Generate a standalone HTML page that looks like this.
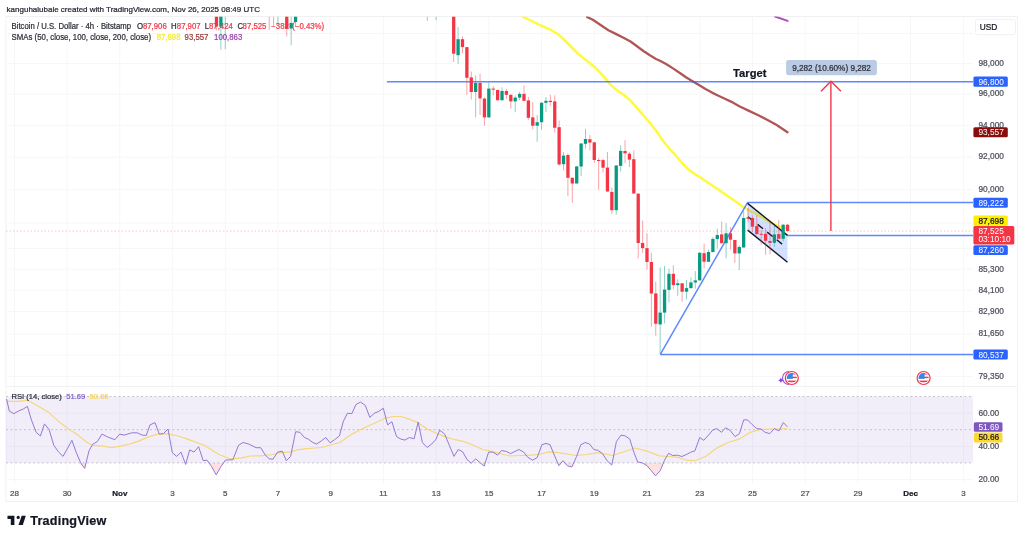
<!DOCTYPE html>
<html><head><meta charset="utf-8"><style>
html,body{margin:0;padding:0;background:#fff;}
body{width:1024px;height:539px;overflow:hidden;position:relative;font-family:"Liberation Sans",sans-serif;}
svg{position:absolute;left:0;top:0;filter:blur(0.35px);}
text{font-family:"Liberation Sans",sans-serif;stroke-width:0.22px;}
</style></head><body>
<svg width="1024" height="539" viewBox="0 0 1024 539">
<rect x="6.0" y="16.5" width="1011.5" height="485.0" fill="#fff" stroke="#f1f1f3" stroke-width="1"/>
<line x1="14.4" y1="16.5" x2="14.4" y2="386.5" stroke="#f7f7f7" stroke-width="1"/><line x1="14.4" y1="386.5" x2="14.4" y2="484.0" stroke="#f7f7f7" stroke-width="1"/><line x1="67.1" y1="16.5" x2="67.1" y2="386.5" stroke="#f7f7f7" stroke-width="1"/><line x1="67.1" y1="386.5" x2="67.1" y2="484.0" stroke="#f7f7f7" stroke-width="1"/><line x1="119.8" y1="16.5" x2="119.8" y2="386.5" stroke="#f7f7f7" stroke-width="1"/><line x1="119.8" y1="386.5" x2="119.8" y2="484.0" stroke="#f7f7f7" stroke-width="1"/><line x1="172.6" y1="16.5" x2="172.6" y2="386.5" stroke="#f7f7f7" stroke-width="1"/><line x1="172.6" y1="386.5" x2="172.6" y2="484.0" stroke="#f7f7f7" stroke-width="1"/><line x1="225.3" y1="16.5" x2="225.3" y2="386.5" stroke="#f7f7f7" stroke-width="1"/><line x1="225.3" y1="386.5" x2="225.3" y2="484.0" stroke="#f7f7f7" stroke-width="1"/><line x1="278.0" y1="16.5" x2="278.0" y2="386.5" stroke="#f7f7f7" stroke-width="1"/><line x1="278.0" y1="386.5" x2="278.0" y2="484.0" stroke="#f7f7f7" stroke-width="1"/><line x1="330.7" y1="16.5" x2="330.7" y2="386.5" stroke="#f7f7f7" stroke-width="1"/><line x1="330.7" y1="386.5" x2="330.7" y2="484.0" stroke="#f7f7f7" stroke-width="1"/><line x1="383.4" y1="16.5" x2="383.4" y2="386.5" stroke="#f7f7f7" stroke-width="1"/><line x1="383.4" y1="386.5" x2="383.4" y2="484.0" stroke="#f7f7f7" stroke-width="1"/><line x1="436.2" y1="16.5" x2="436.2" y2="386.5" stroke="#f7f7f7" stroke-width="1"/><line x1="436.2" y1="386.5" x2="436.2" y2="484.0" stroke="#f7f7f7" stroke-width="1"/><line x1="488.9" y1="16.5" x2="488.9" y2="386.5" stroke="#f7f7f7" stroke-width="1"/><line x1="488.9" y1="386.5" x2="488.9" y2="484.0" stroke="#f7f7f7" stroke-width="1"/><line x1="541.6" y1="16.5" x2="541.6" y2="386.5" stroke="#f7f7f7" stroke-width="1"/><line x1="541.6" y1="386.5" x2="541.6" y2="484.0" stroke="#f7f7f7" stroke-width="1"/><line x1="594.3" y1="16.5" x2="594.3" y2="386.5" stroke="#f7f7f7" stroke-width="1"/><line x1="594.3" y1="386.5" x2="594.3" y2="484.0" stroke="#f7f7f7" stroke-width="1"/><line x1="647.0" y1="16.5" x2="647.0" y2="386.5" stroke="#f7f7f7" stroke-width="1"/><line x1="647.0" y1="386.5" x2="647.0" y2="484.0" stroke="#f7f7f7" stroke-width="1"/><line x1="699.8" y1="16.5" x2="699.8" y2="386.5" stroke="#f7f7f7" stroke-width="1"/><line x1="699.8" y1="386.5" x2="699.8" y2="484.0" stroke="#f7f7f7" stroke-width="1"/><line x1="752.5" y1="16.5" x2="752.5" y2="386.5" stroke="#f7f7f7" stroke-width="1"/><line x1="752.5" y1="386.5" x2="752.5" y2="484.0" stroke="#f7f7f7" stroke-width="1"/><line x1="805.2" y1="16.5" x2="805.2" y2="386.5" stroke="#f7f7f7" stroke-width="1"/><line x1="805.2" y1="386.5" x2="805.2" y2="484.0" stroke="#f7f7f7" stroke-width="1"/><line x1="857.9" y1="16.5" x2="857.9" y2="386.5" stroke="#f7f7f7" stroke-width="1"/><line x1="857.9" y1="386.5" x2="857.9" y2="484.0" stroke="#f7f7f7" stroke-width="1"/><line x1="910.6" y1="16.5" x2="910.6" y2="386.5" stroke="#f7f7f7" stroke-width="1"/><line x1="910.6" y1="386.5" x2="910.6" y2="484.0" stroke="#f7f7f7" stroke-width="1"/><line x1="963.4" y1="16.5" x2="963.4" y2="386.5" stroke="#f7f7f7" stroke-width="1"/><line x1="963.4" y1="386.5" x2="963.4" y2="484.0" stroke="#f7f7f7" stroke-width="1"/><line x1="6.0" y1="33.5" x2="973.0" y2="33.5" stroke="#f7f7f7" stroke-width="1"/><line x1="6.0" y1="63.5" x2="973.0" y2="63.5" stroke="#f7f7f7" stroke-width="1"/><line x1="6.0" y1="94.1" x2="973.0" y2="94.1" stroke="#f7f7f7" stroke-width="1"/><line x1="6.0" y1="125.3" x2="973.0" y2="125.3" stroke="#f7f7f7" stroke-width="1"/><line x1="6.0" y1="157.2" x2="973.0" y2="157.2" stroke="#f7f7f7" stroke-width="1"/><line x1="6.0" y1="189.7" x2="973.0" y2="189.7" stroke="#f7f7f7" stroke-width="1"/><line x1="6.0" y1="223.0" x2="973.0" y2="223.0" stroke="#f7f7f7" stroke-width="1"/><line x1="6.0" y1="248.5" x2="973.0" y2="248.5" stroke="#f7f7f7" stroke-width="1"/><line x1="6.0" y1="269.2" x2="973.0" y2="269.2" stroke="#f7f7f7" stroke-width="1"/><line x1="6.0" y1="290.2" x2="973.0" y2="290.2" stroke="#f7f7f7" stroke-width="1"/><line x1="6.0" y1="311.5" x2="973.0" y2="311.5" stroke="#f7f7f7" stroke-width="1"/><line x1="6.0" y1="334.1" x2="973.0" y2="334.1" stroke="#f7f7f7" stroke-width="1"/><line x1="6.0" y1="355.1" x2="973.0" y2="355.1" stroke="#f7f7f7" stroke-width="1"/><line x1="6.0" y1="376.4" x2="973.0" y2="376.4" stroke="#f7f7f7" stroke-width="1"/><line x1="6.0" y1="413.1" x2="973.0" y2="413.1" stroke="#f7f7f7" stroke-width="1"/><line x1="6.0" y1="446.3" x2="973.0" y2="446.3" stroke="#f7f7f7" stroke-width="1"/><line x1="6.0" y1="479.5" x2="973.0" y2="479.5" stroke="#f7f7f7" stroke-width="1"/><rect x="6.0" y="396.5" width="967.0" height="66.4" fill="#7e57c2" fill-opacity="0.1"/><line x1="6.0" y1="396.5" x2="973.0" y2="396.5" stroke="#a3a6af" stroke-width="1" stroke-dasharray="2,2.5" opacity="0.6"/><line x1="6.0" y1="429.7" x2="973.0" y2="429.7" stroke="#a3a6af" stroke-width="1" stroke-dasharray="2,2.5" opacity="0.6"/><line x1="6.0" y1="462.9" x2="973.0" y2="462.9" stroke="#a3a6af" stroke-width="1" stroke-dasharray="2,2.5" opacity="0.6"/><clipPath id="below30"><rect x="0" y="462.9" width="1024" height="60"/></clipPath><polygon points="6.5,462.9 6.5,398.9 9.3,411.0 13.9,413.7 18.5,411.0 23.2,409.1 27.4,406.3 31.5,420.2 36.2,432.3 40.4,436.0 44.5,423.9 49.1,429.5 53.8,445.3 58.4,451.8 63.0,456.4 67.7,448.0 71.9,440.3 76.0,451.8 80.7,462.9 84.7,468.4 89.0,450.8 92.7,444.3 97.3,441.6 102.0,434.1 107.5,436.9 115.0,439.7 119.6,434.1 124.2,435.1 131.7,432.8 137.4,432.8 142.1,435.1 146.3,435.4 150.0,424.9 155.0,422.6 159.3,434.1 163.4,433.6 168.0,429.1 172.3,452.7 176.7,456.4 181.0,452.1 185.6,464.4 189.7,449.9 194.0,452.1 198.6,446.7 203.2,460.7 207.0,460.1 211.6,466.6 216.2,474.9 220.9,466.6 225.5,460.1 232.9,459.7 238.5,445.3 243.1,442.5 248.7,444.0 256.1,447.7 260.7,447.7 265.6,455.5 269.3,458.8 273.0,459.2 277.6,452.1 282.3,451.2 286.3,460.7 290.6,456.4 295.6,431.7 299.9,432.3 304.5,437.5 308.2,439.1 312.8,442.5 316.6,444.0 321.2,441.0 325.8,437.5 330.1,442.9 334.5,439.7 339.4,436.0 343.4,421.2 347.5,413.2 351.8,413.7 356.0,404.5 360.5,402.1 365.3,405.4 369.8,417.4 375.0,412.8 378.7,411.5 383.3,408.2 387.6,424.9 391.9,421.7 396.5,436.5 400.2,438.8 404.8,440.1 409.5,437.5 414.1,438.8 418.2,422.1 422.4,442.5 427.1,447.5 431.7,444.0 436.0,439.3 439.7,430.1 444.7,434.1 449.3,445.3 454.0,456.4 458.2,449.5 462.7,451.8 467.0,459.5 471.2,463.2 475.7,458.8 479.9,462.5 484.2,466.2 488.6,452.1 492.9,452.1 497.5,455.1 501.6,450.5 506.4,451.4 510.5,453.6 518.9,449.5 523.7,452.1 527.8,457.3 532.6,460.1 537.1,457.7 541.9,444.7 546.0,443.4 550.0,444.7 554.3,455.1 558.9,465.7 563.0,460.7 567.3,465.7 571.9,467.0 576.6,456.4 580.8,444.7 585.3,442.5 589.5,444.0 593.8,449.5 597.9,450.3 602.5,453.6 607.1,460.7 611.8,465.1 616.4,441.6 621.0,435.1 625.3,436.0 629.8,439.1 634.0,452.7 637.7,462.0 642.4,462.9 647.0,465.7 651.3,470.7 655.5,475.8 660.2,470.8 664.5,460.2 668.6,453.3 672.6,455.5 677.5,455.2 681.9,456.5 686.2,454.6 690.8,452.2 694.9,450.9 699.7,437.5 703.8,440.3 708.5,435.1 712.7,430.1 716.8,428.6 721.5,432.3 725.7,427.7 730.2,430.5 735.0,436.6 739.5,433.6 743.7,419.9 747.5,419.9 752.1,424.5 756.7,428.6 761.0,429.0 765.1,432.3 769.7,433.6 774.4,428.6 779.0,430.9 783.3,422.5 787.4,426.8 787.4,462.9" fill="#f23645" fill-opacity="0.15" clip-path="url(#below30)"/><polyline points="6.5,401.3 18.5,401.3 27.8,400.2 37.1,405.4 48.2,411.9 59.3,422.1 68.6,429.1 77.9,435.1 87.1,442.5 92.7,445.3 103.8,446.2 111.3,447.7 120.5,446.2 129.8,444.0 137.4,441.6 148.5,436.9 157.8,434.1 167.1,433.6 178.2,436.0 187.5,439.1 204.2,445.3 219.0,454.5 231.1,459.2 241.3,457.9 250.5,456.0 260.0,455.8 273.0,454.5 280.4,452.7 291.5,451.8 297.1,449.9 306.4,448.6 321.2,447.5 339.7,442.5 352.7,433.6 363.8,428.0 375.0,423.0 386.1,417.8 393.7,416.5 401.1,416.5 408.5,418.9 417.8,422.6 427.1,429.0 436.4,433.2 445.6,436.9 454.9,439.7 464.2,441.6 473.4,445.3 482.7,449.5 492.0,451.4 501.3,454.0 510.5,456.0 519.8,455.5 531.1,455.1 538.5,454.5 549.7,451.8 558.9,452.7 575.6,455.5 586.8,454.5 597.9,452.7 612.7,455.5 623.8,451.8 635.0,448.0 646.1,450.8 659.3,455.9 668.6,456.5 677.8,457.4 687.1,460.2 694.6,460.7 705.7,456.5 716.8,448.1 728.0,442.5 739.1,439.2 750.2,432.3 759.5,429.6 768.8,429.2 779.9,429.0 787.4,428.3" fill="none" stroke="#f6d67a" stroke-width="1.2" stroke-linejoin="round"/><polyline points="6.5,398.9 9.3,411.0 13.9,413.7 18.5,411.0 23.2,409.1 27.4,406.3 31.5,420.2 36.2,432.3 40.4,436.0 44.5,423.9 49.1,429.5 53.8,445.3 58.4,451.8 63.0,456.4 67.7,448.0 71.9,440.3 76.0,451.8 80.7,462.9 84.7,468.4 89.0,450.8 92.7,444.3 97.3,441.6 102.0,434.1 107.5,436.9 115.0,439.7 119.6,434.1 124.2,435.1 131.7,432.8 137.4,432.8 142.1,435.1 146.3,435.4 150.0,424.9 155.0,422.6 159.3,434.1 163.4,433.6 168.0,429.1 172.3,452.7 176.7,456.4 181.0,452.1 185.6,464.4 189.7,449.9 194.0,452.1 198.6,446.7 203.2,460.7 207.0,460.1 211.6,466.6 216.2,474.9 220.9,466.6 225.5,460.1 232.9,459.7 238.5,445.3 243.1,442.5 248.7,444.0 256.1,447.7 260.7,447.7 265.6,455.5 269.3,458.8 273.0,459.2 277.6,452.1 282.3,451.2 286.3,460.7 290.6,456.4 295.6,431.7 299.9,432.3 304.5,437.5 308.2,439.1 312.8,442.5 316.6,444.0 321.2,441.0 325.8,437.5 330.1,442.9 334.5,439.7 339.4,436.0 343.4,421.2 347.5,413.2 351.8,413.7 356.0,404.5 360.5,402.1 365.3,405.4 369.8,417.4 375.0,412.8 378.7,411.5 383.3,408.2 387.6,424.9 391.9,421.7 396.5,436.5 400.2,438.8 404.8,440.1 409.5,437.5 414.1,438.8 418.2,422.1 422.4,442.5 427.1,447.5 431.7,444.0 436.0,439.3 439.7,430.1 444.7,434.1 449.3,445.3 454.0,456.4 458.2,449.5 462.7,451.8 467.0,459.5 471.2,463.2 475.7,458.8 479.9,462.5 484.2,466.2 488.6,452.1 492.9,452.1 497.5,455.1 501.6,450.5 506.4,451.4 510.5,453.6 518.9,449.5 523.7,452.1 527.8,457.3 532.6,460.1 537.1,457.7 541.9,444.7 546.0,443.4 550.0,444.7 554.3,455.1 558.9,465.7 563.0,460.7 567.3,465.7 571.9,467.0 576.6,456.4 580.8,444.7 585.3,442.5 589.5,444.0 593.8,449.5 597.9,450.3 602.5,453.6 607.1,460.7 611.8,465.1 616.4,441.6 621.0,435.1 625.3,436.0 629.8,439.1 634.0,452.7 637.7,462.0 642.4,462.9 647.0,465.7 651.3,470.7 655.5,475.8 660.2,470.8 664.5,460.2 668.6,453.3 672.6,455.5 677.5,455.2 681.9,456.5 686.2,454.6 690.8,452.2 694.9,450.9 699.7,437.5 703.8,440.3 708.5,435.1 712.7,430.1 716.8,428.6 721.5,432.3 725.7,427.7 730.2,430.5 735.0,436.6 739.5,433.6 743.7,419.9 747.5,419.9 752.1,424.5 756.7,428.6 761.0,429.0 765.1,432.3 769.7,433.6 774.4,428.6 779.0,430.9 783.3,422.5 787.4,426.8" fill="none" stroke="#9479d2" stroke-width="1.0" stroke-linejoin="round"/>
<line x1="6.0" y1="386.5" x2="1017.5" y2="386.5" stroke="#f1f2f5" stroke-width="1"/>
<clipPath id="mainclip"><rect x="6.0" y="16.5" width="967.0" height="370.0"/></clipPath><text x="11.6" y="29.0" font-size="8.2" fill="#2a2e39" stroke="#2a2e39" font-weight="normal" text-anchor="start" textLength="119.4" lengthAdjust="spacingAndGlyphs">Bitcoin / U.S. Dollar · 4h · Bitstamp</text><text y="29.0" font-size="8.25" fill="#f23645" stroke="#f23645" transform="scale(0.945,1)"><tspan x="145.08" fill="#2a2e39" stroke="#2a2e39">O</tspan><tspan x="151.22">87,906</tspan><tspan x="180.95" fill="#2a2e39" stroke="#2a2e39">H</tspan><tspan x="187.09">87,907</tspan><tspan x="216.72" fill="#2a2e39" stroke="#2a2e39">L</tspan><tspan x="221.16">87,424</tspan><tspan x="251.22" fill="#2a2e39" stroke="#2a2e39">C</tspan><tspan x="256.72">87,525</tspan><tspan x="287.09">−382</tspan><tspan x="309.31">(−0.43%)</tspan></text><text x="11.6" y="39.6" font-size="8.3" fill="#2a2e39" stroke="#2a2e39" font-weight="normal" text-anchor="start" textLength="139.4" lengthAdjust="spacingAndGlyphs">SMAs (50, close, 100, close, 200, close)</text><text x="165.82" y="39.6" font-size="8.25" fill="#f5e82a" stroke="#f5e82a" font-weight="normal" text-anchor="start" transform="scale(0.945,1)">87,698</text><text x="195.34" y="39.6" font-size="8.25" fill="#9b3a3a" stroke="#9b3a3a" font-weight="normal" text-anchor="start" transform="scale(0.945,1)">93,557</text><text x="226.56" y="39.6" font-size="8.25" fill="#9c3bb0" stroke="#9c3bb0" font-weight="normal" text-anchor="start" transform="scale(0.945,1)">100,863</text><text x="11.5" y="399.3" font-size="7.6" fill="#2a2e39" stroke="#2a2e39" font-weight="normal" text-anchor="start" >RSI (14, close)</text><text x="66.2" y="399.3" font-size="7.6" fill="#8463c8" stroke="#8463c8" font-weight="normal" text-anchor="start" >51.69</text><text x="89.6" y="399.3" font-size="7.6" fill="#f5d45a" stroke="#f5d45a" font-weight="normal" text-anchor="start" >50.66</text><g clip-path="url(#mainclip)" fill="none" stroke-linejoin="round" stroke-linecap="round"><polyline points="522.8,16.6 530.6,20.5 541.0,25.7 551.4,30.2 557.9,34.1 564.4,40.0 570.8,46.5 577.3,53.0 584.0,58.6 590.0,63.2 595.0,67.4 603.0,75.6 609.5,83.6 616.0,89.6 623.8,95.1 630.3,100.3 635.5,106.1 642.0,113.9 648.4,121.0 656.5,131.2 663.0,140.8 669.5,148.8 676.0,155.7 682.5,163.5 689.0,170.0 695.5,174.5 702.0,178.4 708.4,183.0 716.5,188.2 723.0,192.7 729.5,197.3 736.0,201.8 742.5,206.4 749.0,210.3 755.5,213.5 762.0,217.4 768.4,221.3 775.0,224.5 780.1,227.1 787.6,228.3" stroke="#fff940" stroke-width="2.5"/><polyline points="587.0,16.9 592.8,19.8 600.6,25.0 608.4,30.2 616.2,34.1 624.0,38.0 630.5,41.5 637.0,46.2 643.4,51.0 649.9,55.3 656.0,59.0 660.0,60.8 666.5,64.2 673.0,68.4 679.5,72.8 686.0,77.3 692.5,81.2 699.0,85.1 705.5,89.0 712.0,92.6 718.4,95.7 724.9,98.7 731.0,101.6 739.3,106.2 748.5,110.6 757.8,115.0 767.1,119.7 776.3,124.8 787.5,132.2" stroke="#b05656" stroke-width="2.3"/><polyline points="775.0,16.5 787.6,20.9" stroke="#ab4fb8" stroke-width="2"/></g><line x1="386.9" y1="81.8" x2="973.0" y2="81.8" stroke="#2962ff" stroke-width="1.5" opacity="0.75"/><line x1="660.3" y1="354.4" x2="973.0" y2="354.4" stroke="#2962ff" stroke-width="1.5" opacity="0.75"/><polyline points="660.3,354.4 747.5,202.6 973.0,202.6" fill="none" stroke="#2962ff" stroke-width="1.5" opacity="0.75" stroke-linejoin="round"/><line x1="787.3" y1="235.6" x2="973.0" y2="235.6" stroke="#2962ff" stroke-width="1.5" opacity="0.75"/><polygon points="747.6,203.4 787.5,235.4 787.5,262.2 747.6,230.1" fill="#2962ff" fill-opacity="0.2"/><line x1="747.6" y1="203.4" x2="787.5" y2="235.4" stroke="#131722" stroke-width="1.4"/><line x1="747.6" y1="230.1" x2="787.5" y2="262.2" stroke="#131722" stroke-width="1.4"/><line x1="748" y1="216.7" x2="782.1" y2="244.1" stroke="#131722" stroke-width="1.4" stroke-dasharray="7,5.3"/><line x1="6" y1="231.1" x2="973.0" y2="231.1" stroke="#f23645" stroke-width="1" stroke-dasharray="1.5,2" opacity="0.28"/><g clip-path="url(#mainclip)"><line x1="216.48" y1="16.5" x2="216.48" y2="30.4" stroke="#f23645" stroke-width="1" opacity="0.45"/><rect x="214.83" y="16.5" width="3.3" height="10.1" fill="#f23645"/><line x1="220.87" y1="16.5" x2="220.87" y2="49.7" stroke="#089981" stroke-width="1" opacity="0.45"/><rect x="219.22" y="16.5" width="3.3" height="10.1" fill="#089981"/><line x1="225.26" y1="16.5" x2="225.26" y2="49.2" stroke="#089981" stroke-width="1" opacity="0.45"/><line x1="269.19" y1="16.5" x2="269.19" y2="29.9" stroke="#f23645" stroke-width="1" opacity="0.45"/><line x1="273.59" y1="16.5" x2="273.59" y2="26.1" stroke="#f23645" stroke-width="1" opacity="0.45"/><line x1="277.98" y1="16.5" x2="277.98" y2="24.8" stroke="#089981" stroke-width="1" opacity="0.45"/><line x1="286.77" y1="16.5" x2="286.77" y2="36.3" stroke="#f23645" stroke-width="1" opacity="0.45"/><rect x="285.12" y="16.5" width="3.3" height="12.0" fill="#f23645"/><line x1="291.16" y1="16.5" x2="291.16" y2="45.4" stroke="#089981" stroke-width="1" opacity="0.45"/><rect x="289.51" y="22.9" width="3.3" height="5.6" fill="#089981"/><line x1="295.55" y1="16.5" x2="295.55" y2="26.1" stroke="#089981" stroke-width="1" opacity="0.45"/><rect x="293.90" y="16.5" width="3.3" height="5.5" fill="#089981"/><line x1="427.34" y1="16.5" x2="427.34" y2="21.0" stroke="#f23645" stroke-width="1" opacity="0.45"/><line x1="436.13" y1="16.5" x2="436.13" y2="20.2" stroke="#089981" stroke-width="1" opacity="0.45"/><line x1="453.70" y1="16.5" x2="453.70" y2="62.0" stroke="#f23645" stroke-width="1" opacity="0.45"/><rect x="452.05" y="16.5" width="3.3" height="37.2" fill="#f23645"/><line x1="458.09" y1="27.2" x2="458.09" y2="63.8" stroke="#089981" stroke-width="1" opacity="0.45"/><rect x="456.44" y="39.2" width="3.3" height="16.0" fill="#089981"/><line x1="462.49" y1="36.3" x2="462.49" y2="53.0" stroke="#f23645" stroke-width="1" opacity="0.45"/><rect x="460.84" y="39.2" width="3.3" height="7.9" fill="#f23645"/><line x1="466.88" y1="47.0" x2="466.88" y2="95.0" stroke="#f23645" stroke-width="1" opacity="0.45"/><rect x="465.23" y="47.1" width="3.3" height="30.7" fill="#f23645"/><line x1="471.27" y1="71.5" x2="471.27" y2="99.6" stroke="#f23645" stroke-width="1" opacity="0.45"/><rect x="469.62" y="77.4" width="3.3" height="14.6" fill="#f23645"/><line x1="475.66" y1="75.4" x2="475.66" y2="117.4" stroke="#089981" stroke-width="1" opacity="0.45"/><rect x="474.01" y="83.0" width="3.3" height="9.0" fill="#089981"/><line x1="480.06" y1="73.6" x2="480.06" y2="115.0" stroke="#f23645" stroke-width="1" opacity="0.45"/><rect x="478.41" y="83.0" width="3.3" height="15.4" fill="#f23645"/><line x1="484.45" y1="97.2" x2="484.45" y2="125.7" stroke="#f23645" stroke-width="1" opacity="0.45"/><rect x="482.80" y="98.6" width="3.3" height="18.8" fill="#f23645"/><line x1="488.84" y1="82.4" x2="488.84" y2="117.4" stroke="#089981" stroke-width="1" opacity="0.45"/><rect x="487.19" y="88.6" width="3.3" height="28.8" fill="#089981"/><line x1="493.24" y1="86.0" x2="493.24" y2="95.4" stroke="#f23645" stroke-width="1" opacity="0.45"/><rect x="491.59" y="88.6" width="3.3" height="1.1" fill="#f23645"/><line x1="497.63" y1="89.5" x2="497.63" y2="100.5" stroke="#f23645" stroke-width="1" opacity="0.45"/><rect x="495.98" y="90.0" width="3.3" height="10.2" fill="#f23645"/><line x1="502.02" y1="87.4" x2="502.02" y2="100.8" stroke="#089981" stroke-width="1" opacity="0.45"/><rect x="500.37" y="91.0" width="3.3" height="9.2" fill="#089981"/><line x1="506.42" y1="88.9" x2="506.42" y2="99.0" stroke="#f23645" stroke-width="1" opacity="0.45"/><rect x="504.77" y="91.0" width="3.3" height="3.8" fill="#f23645"/><line x1="510.81" y1="94.5" x2="510.81" y2="108.5" stroke="#f23645" stroke-width="1" opacity="0.45"/><rect x="509.16" y="94.8" width="3.3" height="6.6" fill="#f23645"/><line x1="515.20" y1="95.4" x2="515.20" y2="112.0" stroke="#089981" stroke-width="1" opacity="0.45"/><rect x="513.55" y="97.6" width="3.3" height="3.8" fill="#089981"/><line x1="519.60" y1="91.9" x2="519.60" y2="100.2" stroke="#089981" stroke-width="1" opacity="0.45"/><rect x="517.95" y="93.9" width="3.3" height="3.7" fill="#089981"/><line x1="523.99" y1="85.3" x2="523.99" y2="101.4" stroke="#f23645" stroke-width="1" opacity="0.45"/><rect x="522.34" y="93.9" width="3.3" height="6.9" fill="#f23645"/><line x1="528.38" y1="97.0" x2="528.38" y2="119.8" stroke="#f23645" stroke-width="1" opacity="0.45"/><rect x="526.73" y="100.4" width="3.3" height="17.4" fill="#f23645"/><line x1="532.77" y1="102.0" x2="532.77" y2="129.3" stroke="#f23645" stroke-width="1" opacity="0.45"/><rect x="531.12" y="117.4" width="3.3" height="8.3" fill="#f23645"/><line x1="537.17" y1="115.0" x2="537.17" y2="141.8" stroke="#089981" stroke-width="1" opacity="0.45"/><rect x="535.52" y="122.2" width="3.3" height="3.5" fill="#089981"/><line x1="541.56" y1="102.0" x2="541.56" y2="129.6" stroke="#089981" stroke-width="1" opacity="0.45"/><rect x="539.91" y="102.8" width="3.3" height="19.4" fill="#089981"/><line x1="545.95" y1="97.2" x2="545.95" y2="112.0" stroke="#089981" stroke-width="1" opacity="0.45"/><rect x="544.30" y="100.8" width="3.3" height="2.0" fill="#089981"/><line x1="550.35" y1="94.8" x2="550.35" y2="105.5" stroke="#f23645" stroke-width="1" opacity="0.45"/><rect x="548.70" y="100.8" width="3.3" height="1.2" fill="#f23645"/><line x1="554.74" y1="95.4" x2="554.74" y2="132.7" stroke="#f23645" stroke-width="1" opacity="0.45"/><rect x="553.09" y="101.4" width="3.3" height="26.3" fill="#f23645"/><line x1="559.13" y1="120.5" x2="559.13" y2="165.5" stroke="#f23645" stroke-width="1" opacity="0.45"/><rect x="557.48" y="127.2" width="3.3" height="37.3" fill="#f23645"/><line x1="563.52" y1="152.3" x2="563.52" y2="170.5" stroke="#089981" stroke-width="1" opacity="0.45"/><rect x="561.88" y="155.6" width="3.3" height="8.6" fill="#089981"/><line x1="567.92" y1="153.5" x2="567.92" y2="196.2" stroke="#f23645" stroke-width="1" opacity="0.45"/><rect x="566.27" y="155.0" width="3.3" height="22.8" fill="#f23645"/><line x1="572.31" y1="177.5" x2="572.31" y2="202.8" stroke="#f23645" stroke-width="1" opacity="0.45"/><rect x="570.66" y="177.8" width="3.3" height="5.7" fill="#f23645"/><line x1="576.70" y1="166.0" x2="576.70" y2="183.5" stroke="#089981" stroke-width="1" opacity="0.45"/><rect x="575.05" y="166.4" width="3.3" height="17.1" fill="#089981"/><line x1="581.10" y1="143.0" x2="581.10" y2="176.0" stroke="#089981" stroke-width="1" opacity="0.45"/><rect x="579.45" y="143.5" width="3.3" height="23.0" fill="#089981"/><line x1="585.49" y1="128.9" x2="585.49" y2="148.5" stroke="#089981" stroke-width="1" opacity="0.45"/><rect x="583.84" y="139.0" width="3.3" height="4.8" fill="#089981"/><line x1="589.88" y1="135.2" x2="589.88" y2="150.3" stroke="#f23645" stroke-width="1" opacity="0.45"/><rect x="588.23" y="139.2" width="3.3" height="3.4" fill="#f23645"/><line x1="594.28" y1="142.0" x2="594.28" y2="162.8" stroke="#f23645" stroke-width="1" opacity="0.45"/><rect x="592.63" y="142.3" width="3.3" height="17.7" fill="#f23645"/><line x1="598.67" y1="158.0" x2="598.67" y2="189.7" stroke="#f23645" stroke-width="1" opacity="0.45"/><rect x="597.02" y="160.0" width="3.3" height="1.0" fill="#f23645"/><line x1="603.06" y1="158.6" x2="603.06" y2="172.5" stroke="#f23645" stroke-width="1" opacity="0.45"/><rect x="601.41" y="160.1" width="3.3" height="7.6" fill="#f23645"/><line x1="607.45" y1="151.9" x2="607.45" y2="191.8" stroke="#f23645" stroke-width="1" opacity="0.45"/><rect x="605.80" y="167.6" width="3.3" height="23.9" fill="#f23645"/><line x1="611.85" y1="187.3" x2="611.85" y2="214.3" stroke="#f23645" stroke-width="1" opacity="0.45"/><rect x="610.20" y="191.9" width="3.3" height="18.3" fill="#f23645"/><line x1="616.24" y1="165.0" x2="616.24" y2="214.7" stroke="#089981" stroke-width="1" opacity="0.45"/><rect x="614.59" y="165.5" width="3.3" height="44.7" fill="#089981"/><line x1="620.63" y1="145.3" x2="620.63" y2="171.5" stroke="#089981" stroke-width="1" opacity="0.45"/><rect x="618.98" y="150.9" width="3.3" height="15.0" fill="#089981"/><line x1="625.03" y1="140.2" x2="625.03" y2="163.2" stroke="#f23645" stroke-width="1" opacity="0.45"/><rect x="623.38" y="151.0" width="3.3" height="2.3" fill="#f23645"/><line x1="629.42" y1="151.9" x2="629.42" y2="167.1" stroke="#f23645" stroke-width="1" opacity="0.45"/><rect x="627.77" y="153.7" width="3.3" height="5.9" fill="#f23645"/><line x1="633.81" y1="150.5" x2="633.81" y2="193.8" stroke="#f23645" stroke-width="1" opacity="0.45"/><rect x="632.16" y="159.2" width="3.3" height="34.3" fill="#f23645"/><line x1="638.21" y1="193.0" x2="638.21" y2="258.4" stroke="#f23645" stroke-width="1" opacity="0.45"/><rect x="636.56" y="193.7" width="3.3" height="49.3" fill="#f23645"/><line x1="642.60" y1="220.6" x2="642.60" y2="252.8" stroke="#f23645" stroke-width="1" opacity="0.45"/><rect x="640.95" y="243.0" width="3.3" height="5.1" fill="#f23645"/><line x1="646.99" y1="233.3" x2="646.99" y2="269.7" stroke="#f23645" stroke-width="1" opacity="0.45"/><rect x="645.34" y="248.1" width="3.3" height="13.9" fill="#f23645"/><line x1="651.38" y1="253.0" x2="651.38" y2="326.8" stroke="#f23645" stroke-width="1" opacity="0.45"/><rect x="649.74" y="262.0" width="3.3" height="31.5" fill="#f23645"/><line x1="655.78" y1="281.6" x2="655.78" y2="335.7" stroke="#f23645" stroke-width="1" opacity="0.45"/><rect x="654.13" y="293.4" width="3.3" height="30.4" fill="#f23645"/><line x1="660.17" y1="267.3" x2="660.17" y2="353.5" stroke="#089981" stroke-width="1" opacity="0.45"/><rect x="658.52" y="312.6" width="3.3" height="11.8" fill="#089981"/><line x1="664.56" y1="265.9" x2="664.56" y2="323.3" stroke="#089981" stroke-width="1" opacity="0.45"/><rect x="662.91" y="289.6" width="3.3" height="23.0" fill="#089981"/><line x1="668.96" y1="268.5" x2="668.96" y2="302.4" stroke="#089981" stroke-width="1" opacity="0.45"/><rect x="667.31" y="273.8" width="3.3" height="16.1" fill="#089981"/><line x1="673.35" y1="265.3" x2="673.35" y2="289.3" stroke="#f23645" stroke-width="1" opacity="0.45"/><rect x="671.70" y="273.8" width="3.3" height="11.3" fill="#f23645"/><line x1="677.74" y1="279.2" x2="677.74" y2="295.8" stroke="#089981" stroke-width="1" opacity="0.45"/><rect x="676.09" y="283.3" width="3.3" height="1.8" fill="#089981"/><line x1="682.14" y1="283.0" x2="682.14" y2="301.8" stroke="#f23645" stroke-width="1" opacity="0.45"/><rect x="680.49" y="283.3" width="3.3" height="8.4" fill="#f23645"/><line x1="686.53" y1="279.8" x2="686.53" y2="299.4" stroke="#089981" stroke-width="1" opacity="0.45"/><rect x="684.88" y="288.1" width="3.3" height="3.6" fill="#089981"/><line x1="690.92" y1="277.4" x2="690.92" y2="288.7" stroke="#089981" stroke-width="1" opacity="0.45"/><rect x="689.27" y="282.4" width="3.3" height="5.7" fill="#089981"/><line x1="695.31" y1="271.1" x2="695.31" y2="288.7" stroke="#089981" stroke-width="1" opacity="0.45"/><rect x="693.66" y="280.4" width="3.3" height="2.1" fill="#089981"/><line x1="699.71" y1="252.0" x2="699.71" y2="280.4" stroke="#089981" stroke-width="1" opacity="0.45"/><rect x="698.06" y="252.8" width="3.3" height="27.6" fill="#089981"/><line x1="704.10" y1="243.5" x2="704.10" y2="268.3" stroke="#f23645" stroke-width="1" opacity="0.45"/><rect x="702.45" y="253.2" width="3.3" height="8.5" fill="#f23645"/><line x1="708.49" y1="249.7" x2="708.49" y2="261.8" stroke="#089981" stroke-width="1" opacity="0.45"/><rect x="706.84" y="252.0" width="3.3" height="9.8" fill="#089981"/><line x1="712.89" y1="237.0" x2="712.89" y2="252.1" stroke="#089981" stroke-width="1" opacity="0.45"/><rect x="711.24" y="239.0" width="3.3" height="13.1" fill="#089981"/><line x1="717.28" y1="228.5" x2="717.28" y2="248.6" stroke="#089981" stroke-width="1" opacity="0.45"/><rect x="715.63" y="235.0" width="3.3" height="4.1" fill="#089981"/><line x1="721.67" y1="221.6" x2="721.67" y2="243.3" stroke="#f23645" stroke-width="1" opacity="0.45"/><rect x="720.02" y="234.4" width="3.3" height="8.8" fill="#f23645"/><line x1="726.07" y1="223.2" x2="726.07" y2="258.4" stroke="#089981" stroke-width="1" opacity="0.45"/><rect x="724.42" y="233.3" width="3.3" height="9.9" fill="#089981"/><line x1="730.46" y1="227.1" x2="730.46" y2="249.5" stroke="#f23645" stroke-width="1" opacity="0.45"/><rect x="728.81" y="233.3" width="3.3" height="6.4" fill="#f23645"/><line x1="734.85" y1="240.0" x2="734.85" y2="262.8" stroke="#f23645" stroke-width="1" opacity="0.45"/><rect x="733.20" y="240.0" width="3.3" height="13.4" fill="#f23645"/><line x1="739.24" y1="245.4" x2="739.24" y2="270.1" stroke="#089981" stroke-width="1" opacity="0.45"/><rect x="737.59" y="247.0" width="3.3" height="6.4" fill="#089981"/><line x1="743.64" y1="211.3" x2="743.64" y2="247.5" stroke="#089981" stroke-width="1" opacity="0.45"/><rect x="741.99" y="218.0" width="3.3" height="29.5" fill="#089981"/><line x1="748.03" y1="208.0" x2="748.03" y2="222.0" stroke="#f23645" stroke-width="1" opacity="0.45"/><rect x="746.38" y="217.4" width="3.3" height="1.3" fill="#f23645"/><line x1="752.42" y1="215.4" x2="752.42" y2="232.0" stroke="#f23645" stroke-width="1" opacity="0.45"/><rect x="750.77" y="218.0" width="3.3" height="8.7" fill="#f23645"/><line x1="756.82" y1="215.4" x2="756.82" y2="234.8" stroke="#f23645" stroke-width="1" opacity="0.45"/><rect x="755.17" y="226.1" width="3.3" height="8.0" fill="#f23645"/><line x1="761.21" y1="230.0" x2="761.21" y2="244.8" stroke="#f23645" stroke-width="1" opacity="0.45"/><rect x="759.56" y="233.8" width="3.3" height="1.0" fill="#f23645"/><line x1="765.60" y1="228.0" x2="765.60" y2="254.8" stroke="#f23645" stroke-width="1" opacity="0.45"/><rect x="763.95" y="233.8" width="3.3" height="7.0" fill="#f23645"/><line x1="770.00" y1="221.4" x2="770.00" y2="254.2" stroke="#f23645" stroke-width="1" opacity="0.45"/><rect x="768.35" y="241.0" width="3.3" height="1.8" fill="#f23645"/><line x1="774.39" y1="226.0" x2="774.39" y2="246.8" stroke="#089981" stroke-width="1" opacity="0.45"/><rect x="772.74" y="234.4" width="3.3" height="8.4" fill="#089981"/><line x1="778.78" y1="220.0" x2="778.78" y2="238.8" stroke="#f23645" stroke-width="1" opacity="0.45"/><rect x="777.13" y="234.1" width="3.3" height="4.7" fill="#f23645"/><line x1="783.17" y1="224.0" x2="783.17" y2="241.5" stroke="#089981" stroke-width="1" opacity="0.45"/><rect x="781.52" y="224.7" width="3.3" height="14.1" fill="#089981"/><line x1="787.57" y1="224.0" x2="787.57" y2="231.5" stroke="#f23645" stroke-width="1" opacity="0.45"/><rect x="785.92" y="224.7" width="3.3" height="6.3" fill="#f23645"/></g><line x1="830.9" y1="231.1" x2="830.9" y2="82.3" stroke="#f23645" stroke-width="1.4"/><polyline points="821,91.3 830.9,81.3 840.9,91.3" fill="none" stroke="#f23645" stroke-width="1.4"/><rect x="786.1" y="60" width="90.8" height="15.2" rx="2.5" fill="#bccbe4"/><text x="831.5" y="70.8" font-size="8.2" fill="#2a2e39" stroke="#2a2e39" font-weight="normal" text-anchor="middle" >9,282 (10.60%) 9,282</text><text x="749.8" y="77.4" font-size="11.2" fill="#131722" stroke="#131722" font-weight="bold" text-anchor="middle" >Target</text><text x="978.5" y="65.7959120556244" font-size="8.3" fill="#4c4f5a" stroke="#4c4f5a" font-weight="normal" text-anchor="start" >98,000</text><text x="978.5" y="96.36194340496054" font-size="8.3" fill="#4c4f5a" stroke="#4c4f5a" font-weight="normal" text-anchor="start" >96,000</text><text x="978.5" y="127.57151719982579" font-size="8.3" fill="#4c4f5a" stroke="#4c4f5a" font-weight="normal" text-anchor="start" >94,000</text><text x="978.5" y="159.45231581938322" font-size="8.3" fill="#4c4f5a" stroke="#4c4f5a" font-weight="normal" text-anchor="start" >92,000</text><text x="978.5" y="192.03384713929591" font-size="8.3" fill="#4c4f5a" stroke="#4c4f5a" font-weight="normal" text-anchor="start" >90,000</text><text x="978.5" y="271.5426910895891" font-size="8.3" fill="#4c4f5a" stroke="#4c4f5a" font-weight="normal" text-anchor="start" >85,300</text><text x="978.5" y="292.5451675473559" font-size="8.3" fill="#4c4f5a" stroke="#4c4f5a" font-weight="normal" text-anchor="start" >84,100</text><text x="978.5" y="313.849486318693" font-size="8.3" fill="#4c4f5a" stroke="#4c4f5a" font-weight="normal" text-anchor="start" >82,900</text><text x="978.5" y="336.3719493339" font-size="8.3" fill="#4c4f5a" stroke="#4c4f5a" font-weight="normal" text-anchor="start" >81,650</text><text x="978.5" y="378.7291166449683" font-size="8.3" fill="#4c4f5a" stroke="#4c4f5a" font-weight="normal" text-anchor="start" >79,350</text><rect x="973.4" y="76.5" width="34.4" height="10.3" rx="1.5" fill="#2962ff"/><text x="978.4" y="84.55000000000001" font-size="8.3" fill="#fff" stroke="#fff" font-weight="normal" text-anchor="start" style="stroke-width:0">96,800</text><rect x="973.4" y="127.3" width="34.4" height="10.0" rx="1.5" fill="#880e0e"/><text x="978.4" y="135.20000000000002" font-size="8.3" fill="#fff" stroke="#fff" font-weight="normal" text-anchor="start" style="stroke-width:0">93,557</text><rect x="973.4" y="197.8" width="34.4" height="10.0" rx="1.5" fill="#2962ff"/><text x="978.4" y="205.70000000000002" font-size="8.3" fill="#fff" stroke="#fff" font-weight="normal" text-anchor="start" style="stroke-width:0">89,222</text><rect x="973.4" y="215.6" width="34.4" height="10.1" rx="1.5" fill="#ffee00"/><text x="978.4" y="223.54999999999998" font-size="8.3" fill="#131722" stroke="#131722" font-weight="normal" text-anchor="start" >87,698</text><rect x="973.4" y="226.1" width="40.9" height="18.4" rx="1.5" fill="#f23645"/><text x="978.4" y="233.9" font-size="8.3" fill="#fff" stroke="#fff" font-weight="normal" text-anchor="start" style="stroke-width:0">87,525</text><text x="978.4" y="242.4" font-size="8.3" fill="#fff" stroke="#fff" font-weight="normal" text-anchor="start" style="stroke-width:0">03:10:10</text><rect x="973.4" y="245.2" width="34.4" height="9.7" rx="1.5" fill="#2962ff"/><text x="978.4" y="252.95000000000002" font-size="8.3" fill="#fff" stroke="#fff" font-weight="normal" text-anchor="start" style="stroke-width:0">87,260</text><rect x="973.4" y="349.6" width="34.4" height="10.0" rx="1.5" fill="#2962ff"/><text x="978.4" y="357.5" font-size="8.3" fill="#fff" stroke="#fff" font-weight="normal" text-anchor="start" style="stroke-width:0">80,537</text><rect x="975.5" y="19.4" width="40" height="15.3" rx="2.5" fill="#fff" stroke="#f0f1f4" stroke-width="1"/><text x="988.6" y="29.6" font-size="8.3" fill="#131722" stroke="#131722" font-weight="normal" text-anchor="middle" >USD</text><text x="978.4" y="415.99999999999994" font-size="8.3" fill="#4c4f5a" stroke="#4c4f5a" font-weight="normal" text-anchor="start" >60.00</text><text x="978.4" y="449.2" font-size="8.3" fill="#4c4f5a" stroke="#4c4f5a" font-weight="normal" text-anchor="start" >40.00</text><text x="978.4" y="482.4" font-size="8.3" fill="#4c4f5a" stroke="#4c4f5a" font-weight="normal" text-anchor="start" >20.00</text><rect x="973.8" y="422.2" width="28.7" height="9.6" rx="1.5" fill="#7e57c2"/><text x="978.4" y="429.9" font-size="8.3" fill="#fff" stroke="#fff" font-weight="normal" text-anchor="start" style="stroke-width:0">51.69</text><rect x="973.8" y="432.5" width="28.7" height="10" rx="1.5" fill="#fdd835"/><text x="978.4" y="440.4" font-size="8.3" fill="#131722" stroke="#131722" font-weight="normal" text-anchor="start" >50.66</text><text x="14.4" y="496.3" font-size="8.0" fill="#4c4f5a" stroke="#4c4f5a" font-weight="normal" text-anchor="middle" >28</text><text x="67.1" y="496.3" font-size="8.0" fill="#4c4f5a" stroke="#4c4f5a" font-weight="normal" text-anchor="middle" >30</text><text x="119.8" y="496.3" font-size="8.0" fill="#131722" stroke="#131722" font-weight="bold" text-anchor="middle" >Nov</text><text x="172.6" y="496.3" font-size="8.0" fill="#4c4f5a" stroke="#4c4f5a" font-weight="normal" text-anchor="middle" >3</text><text x="225.3" y="496.3" font-size="8.0" fill="#4c4f5a" stroke="#4c4f5a" font-weight="normal" text-anchor="middle" >5</text><text x="278.0" y="496.3" font-size="8.0" fill="#4c4f5a" stroke="#4c4f5a" font-weight="normal" text-anchor="middle" >7</text><text x="330.7" y="496.3" font-size="8.0" fill="#4c4f5a" stroke="#4c4f5a" font-weight="normal" text-anchor="middle" >9</text><text x="383.4" y="496.3" font-size="8.0" fill="#4c4f5a" stroke="#4c4f5a" font-weight="normal" text-anchor="middle" >11</text><text x="436.2" y="496.3" font-size="8.0" fill="#4c4f5a" stroke="#4c4f5a" font-weight="normal" text-anchor="middle" >13</text><text x="488.9" y="496.3" font-size="8.0" fill="#4c4f5a" stroke="#4c4f5a" font-weight="normal" text-anchor="middle" >15</text><text x="541.6" y="496.3" font-size="8.0" fill="#4c4f5a" stroke="#4c4f5a" font-weight="normal" text-anchor="middle" >17</text><text x="594.3" y="496.3" font-size="8.0" fill="#4c4f5a" stroke="#4c4f5a" font-weight="normal" text-anchor="middle" >19</text><text x="647.0" y="496.3" font-size="8.0" fill="#4c4f5a" stroke="#4c4f5a" font-weight="normal" text-anchor="middle" >21</text><text x="699.8" y="496.3" font-size="8.0" fill="#4c4f5a" stroke="#4c4f5a" font-weight="normal" text-anchor="middle" >23</text><text x="752.5" y="496.3" font-size="8.0" fill="#4c4f5a" stroke="#4c4f5a" font-weight="normal" text-anchor="middle" >25</text><text x="805.2" y="496.3" font-size="8.0" fill="#4c4f5a" stroke="#4c4f5a" font-weight="normal" text-anchor="middle" >27</text><text x="857.9" y="496.3" font-size="8.0" fill="#4c4f5a" stroke="#4c4f5a" font-weight="normal" text-anchor="middle" >29</text><text x="910.6" y="496.3" font-size="8.0" fill="#131722" stroke="#131722" font-weight="bold" text-anchor="middle" >Dec</text><text x="963.4" y="496.3" font-size="8.0" fill="#4c4f5a" stroke="#4c4f5a" font-weight="normal" text-anchor="middle" >3</text><text x="6.6" y="12.1" font-size="8.0" fill="#1e222d" stroke="#1e222d" font-weight="normal" text-anchor="start" >kanguhalubale created with TradingView.com, Nov 26, 2025 08:49 UTC</text><path d="M7.5,515.8 H14.4 V524.9 H10.8 V519.1 H7.5 Z" fill="#131722"/><circle cx="18.2" cy="517.4" r="1.6" fill="#131722"/><path d="M21.7,515.8 H25.8 L22.8,524.9 H18.5 Z" fill="#131722"/><text x="30.3" y="524.9" font-size="12.6" fill="#131722" stroke="#131722" font-weight="bold" text-anchor="start" letter-spacing="0.2">TradingView</text><path d="M789,371.5 A6.5,6.5 0 1 0 789,384.5" fill="none" stroke="#a24fd0" stroke-width="1.1"/><path d="M780.9,377.6 L781.8,379.4 L783.6,380.3 L781.8,381.2 L780.9,383 L780,381.2 L778.2,380.3 L780,379.4 Z" fill="#7b3fe4"/><g><circle cx="791.8" cy="378" r="6.5" fill="#fff" stroke="#f23645" stroke-width="1.2"/><clipPath id="fc791"><circle cx="791.8" cy="378" r="5.1"/></clipPath><g clip-path="url(#fc791)"><rect x="791.8" y="373.2" width="6" height="1.3" fill="#f23645"/><rect x="791.8" y="376.7" width="6" height="1.4" fill="#f23645"/><rect x="785.8" y="380.6" width="12" height="1.7" fill="#f23645"/><rect x="785.8" y="372" width="7.0" height="6.9" fill="#3d85e8"/></g></g><g><circle cx="923.6" cy="378" r="6.5" fill="#fff" stroke="#f23645" stroke-width="1.2"/><clipPath id="fc923"><circle cx="923.6" cy="378" r="5.1"/></clipPath><g clip-path="url(#fc923)"><rect x="923.6" y="373.2" width="6" height="1.3" fill="#f23645"/><rect x="923.6" y="376.7" width="6" height="1.4" fill="#f23645"/><rect x="917.6" y="380.6" width="12" height="1.7" fill="#f23645"/><rect x="917.6" y="372" width="7.0" height="6.9" fill="#3d85e8"/></g></g></svg></body></html>
